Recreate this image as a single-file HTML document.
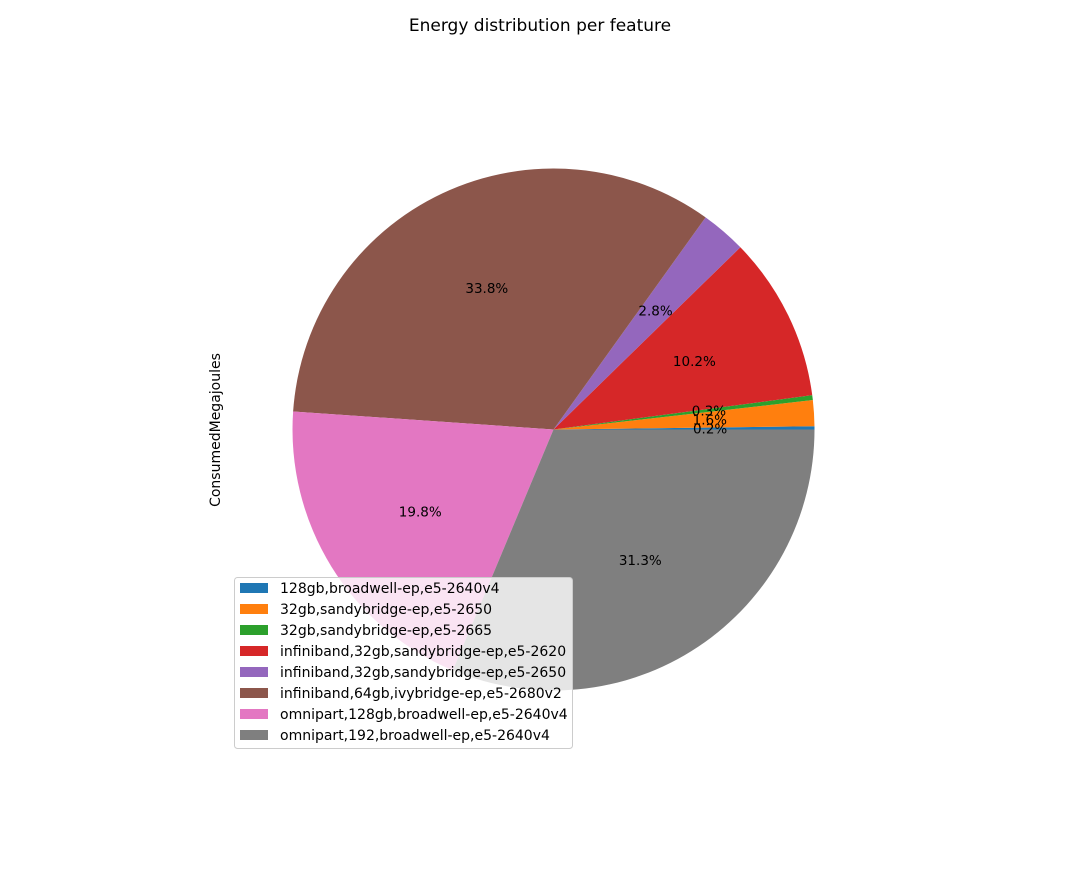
<!DOCTYPE html>
<html><head><meta charset="utf-8"><style>
body{margin:0;background:#fff;font-family:"Liberation Sans","DejaVu Sans",sans-serif;}
svg text{font-family:"DejaVu Sans","Liberation Sans",sans-serif;}
</style></head><body>
<svg id="chart" width="1080" height="864" xmlns="http://www.w3.org/2000/svg">
<rect width="1080" height="864" fill="#fff"/>
<text x="540" y="31" text-anchor="middle" font-size="17">Energy distribution per feature</text>
<text transform="translate(220,430) rotate(-90)" text-anchor="middle" font-size="14">ConsumedMegajoules</text>
<g id="slices"></g>
<g id="labels"></g>
<g id="legend"></g>
</svg>
<script>
const categories = ["128gb,broadwell-ep,e5-2640v4","32gb,sandybridge-ep,e5-2650","32gb,sandybridge-ep,e5-2665","infiniband,32gb,sandybridge-ep,e5-2620","infiniband,32gb,sandybridge-ep,e5-2650","infiniband,64gb,ivybridge-ep,e5-2680v2","omnipart,128gb,broadwell-ep,e5-2640v4","omnipart,192,broadwell-ep,e5-2640v4"];
const values = [0.2, 1.6, 0.3, 10.2, 2.8, 33.8, 19.8, 31.3];
const colors = ["#1f77b4","#ff7f0e","#2ca02c","#d62728","#9467bd","#8c564b","#e377c2","#7f7f7f"];
const NS="http://www.w3.org/2000/svg";
const cx=553.5, cy=429.5, r=261;
const total=values.reduce((a,b)=>a+b,0);
const gS=document.getElementById('slices'), gL=document.getElementById('labels'), gG=document.getElementById('legend');
let a0=0;
values.forEach((v,i)=>{
  const a1=a0+v/total*2*Math.PI;
  const x0=cx+r*Math.cos(a0), y0=cy-r*Math.sin(a0), x1=cx+r*Math.cos(a1), y1=cy-r*Math.sin(a1);
  const large=(a1-a0)>Math.PI?1:0;
  const p=document.createElementNS(NS,'path');
  p.setAttribute('d',`M${cx},${cy} L${x0},${y0} A${r},${r} 0 ${large} 0 ${x1},${y1} Z`);
  p.setAttribute('fill',colors[i]);
  
  
  gS.appendChild(p);
  const am=(a0+a1)/2;
  const t=document.createElementNS(NS,'text');
  t.setAttribute('x',cx+0.6*r*Math.cos(am));
  t.setAttribute('y',cy-0.6*r*Math.sin(am)+5);
  t.setAttribute('text-anchor','middle');
  t.setAttribute('font-size','13.5');
  t.textContent=(v/total*100).toFixed(1)+'%';
  
  
  gL.appendChild(t);
  a0=a1;
});
const box=document.createElementNS(NS,'rect');
box.setAttribute('x',234.5);box.setAttribute('y',577.5);box.setAttribute('width',338);box.setAttribute('height',171);box.setAttribute('rx',3);
box.setAttribute('fill','rgba(255,255,255,0.8)');box.setAttribute('stroke','#ccc');


gG.appendChild(box);
categories.forEach((c,i)=>{
  const y=588+i*21;
  const g=document.createElementNS(NS,'g');
  
  
  const s=document.createElementNS(NS,'rect');
  s.setAttribute('x',240);s.setAttribute('y',y-5);s.setAttribute('width',28);s.setAttribute('height',10);s.setAttribute('fill',colors[i]);
  const t=document.createElementNS(NS,'text');
  t.setAttribute('x',280);t.setAttribute('y',y+5);t.setAttribute('font-size','14');t.textContent=c;
  g.appendChild(s);g.appendChild(t);gG.appendChild(g);
});
</script>
</body></html>
